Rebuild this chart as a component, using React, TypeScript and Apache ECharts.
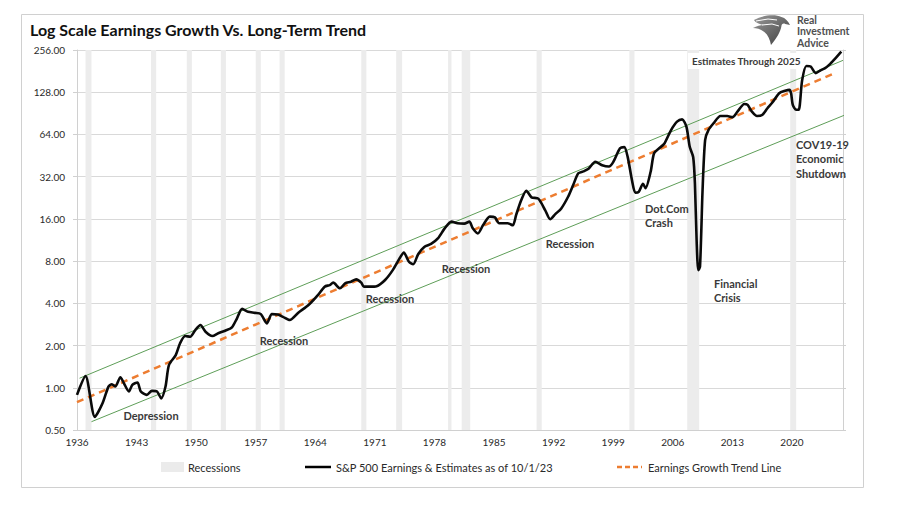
import React, { useEffect, useRef } from "react";
import * as echarts from "echarts";

// ---- Data ----
const YEARS = [
  1936.0, 1937.0, 1938.1, 1939.0, 1939.7, 1940.1, 1940.5, 1941.1, 1941.5, 1942.1,
  1942.5, 1943.1, 1943.5, 1944.2, 1944.8, 1945.4, 1945.9, 1946.4, 1946.8, 1947.6,
  1948.1, 1948.7, 1949.3, 1949.9, 1950.5, 1951.1, 1951.9, 1952.6, 1953.4, 1954.2,
  1954.8, 1955.4, 1956.1, 1956.9, 1957.6, 1958.3, 1958.9, 1959.6, 1960.2, 1961.0,
  1962.0, 1963.2, 1964.3, 1965.1, 1965.7, 1966.1, 1966.9, 1967.5, 1968.2, 1968.8,
  1969.4, 1969.7, 1970.4, 1971.2, 1972.2, 1973.1, 1973.9, 1974.4, 1975.0, 1975.5,
  1976.1, 1976.8, 1977.6, 1978.4, 1979.2, 1980.0, 1980.7, 1981.5, 1982.1, 1982.5,
  1983.1, 1983.7, 1984.5, 1985.1, 1985.6, 1986.6, 1987.2, 1987.6, 1988.2, 1988.8,
  1989.4, 1990.2, 1991.0, 1991.6, 1992.2, 1992.9, 1993.7, 1994.3, 1994.9, 1995.5,
  1996.1, 1996.9, 1997.7, 1998.5, 1999.0, 1999.8, 2000.3, 2000.7, 2001.2, 2001.6,
  2002.0, 2002.5, 2002.8, 2003.4, 2003.8, 2004.4, 2005.0, 2005.8, 2006.5, 2007.1,
  2007.6, 2008.0, 2008.4, 2008.6, 2008.8, 2009.0, 2009.2, 2009.5, 2009.8, 2010.2,
  2010.8, 2011.6, 2012.4, 2013.0, 2013.6, 2014.4, 2014.8, 2015.3, 2015.9, 2016.5,
  2017.1, 2017.7, 2018.5, 2019.2, 2019.7, 2019.9, 2020.1, 2020.5, 2020.8, 2021.2,
  2021.7, 2022.2, 2022.8, 2023.4, 2023.9, 2024.5, 2025.1, 2025.8,
];
const EARNINGS = [
  0.89, 1.21, 0.62, 0.775, 1.02, 1.06, 1.02, 1.19, 1.08, 0.94,
  1.05, 1.09, 0.94, 0.89, 0.95, 0.94, 0.84, 1.02, 1.45, 1.71,
  2.07, 2.34, 2.31, 2.58, 2.8, 2.51, 2.34, 2.45, 2.55, 2.7,
  3.13, 3.65, 3.48, 3.42, 3.35, 2.88, 3.35, 3.33, 3.2, 3.04,
  3.43, 3.89, 4.58, 5.26, 5.4, 5.62, 5.12, 5.55, 5.7, 5.93,
  5.62, 5.26, 5.26, 5.3, 5.87, 6.9, 8.37, 9.2, 7.92, 7.6,
  9.0, 10.1, 10.6, 11.6, 13.7, 15.3, 14.9, 14.8, 15.3, 13.7,
  12.6, 14.4, 16.6, 16.4, 14.9, 14.9, 14.4, 17.1, 21.8, 25.4,
  22.8, 22.3, 18.5, 15.9, 17.3, 19.0, 23.0, 27.9, 33.8, 34.9,
  36.4, 40.9, 38.6, 37.8, 40.6, 51, 52, 44.3, 30.3, 24.6,
  24.9, 28.5, 26.5, 34.7, 47, 51, 55, 68.8, 79, 82,
  72.7, 52, 44, 28.7, 11.3, 6.9, 7.3, 25.7, 58.4, 69,
  77, 86.6, 86.6, 85, 93, 105.6, 104, 93, 86.6, 88,
  98, 108, 126, 131, 133, 126, 104, 96, 96, 156,
  197, 195, 175, 184, 190, 204, 223, 249,
];

const RECESSION_START = [1937.0, 1944.7, 1948.9, 1952.9, 1957.0, 1959.8, 1969.4, 1973.5, 1979.6, 1981.2, 1990.0, 2000.9, 2007.7, 2019.8];
const RECESSION_END = [1937.7, 1945.3, 1949.5, 1953.5, 1957.6, 1960.4, 1970.0, 1974.2, 1980.0, 1982.2, 1990.6, 2001.5, 2009.1, 2020.5];

const TREND_YEARS = [1936, 2025];
const TREND_VALUES = [0.79, 175];
const UPPER_YEARS = [1936.3, 2026];
const UPPER_VALUES = [1.17, 216];
const LOWER_YEARS = [1937.7, 2026.8];
const LOWER_VALUES = [0.573, 91];

const X_MIN = 1936;
const X_MAX = 2026;
const X_STEP = 7;
const Y_MIN = 0.5;
const Y_MAX = 256;

const SERIES_NAMES = [
  "Recessions",
  "S&P 500 Earnings & Estimates as of 10/1/23",
  "Earnings Growth Trend Line",
];
const TITLE = "Log Scale Earnings Growth Vs. Long-Term Trend";
const LOGO_LINES = ["Real", "Investment", "Advice"];

const FONT = "Lato, 'Noto Sans', sans-serif";

echarts.graphic.registerShape(
  "eagleLogo",
  echarts.graphic.extendPath(
    "M2 7 C12 2 24 1 31 4 C35 5 38 8 40 12 L35 11 C33 10 31 11 31 13 C30 19 26 25 20 32 C19 27 17 22 13 19 C9 16 5 15 1 15 C5 13 9 12 12 12 C8 11 4 10 2 7 Z",
    {}
  )
);

function pairs(xs: number[], ys: number[]) {
  return xs.map((x, i) => [x, ys[i]]);
}

function ann(text: string, x: number, y: number, align = "center", size = 11) {
  return {
    type: "text",
    x,
    y,
    z: 20,
    style: {
      text,
      fill: "#3a3a3a",
      fontSize: size,
      fontWeight: "bold",
      fontFamily: FONT,
      align,
      verticalAlign: "middle",
    },
  };
}

export default function App() {
  const ref = useRef<HTMLDivElement>(null);
  useEffect(() => {
    if (!ref.current) return;
    const chart = echarts.init(ref.current, null, { renderer: "svg" });
    const option: any = {
      animation: false,
      backgroundColor: "#ffffff",
      title: {
        text: TITLE,
        left: 25,
        top: 16,
        textStyle: { fontSize: 16, fontWeight: "bold", color: "#111", fontFamily: FONT },
      },
      grid: { left: 77, top: 50, width: 766, height: 380 },
      xAxis: {
        type: "value",
        min: X_MIN,
        max: X_MAX,
        interval: X_STEP,
        axisLine: { show: true, lineStyle: { color: "#d0d0d0" } },
        axisTick: { show: false },
        splitLine: { show: false },
        axisLabel: {
          color: "#2a2a2a",
          fontSize: 10,
          fontFamily: FONT,
          margin: 7,
          showMaxLabel: false,
          formatter: (v: number) => String(Math.round(v)),
        },
      },
      yAxis: [
        {
          type: "log",
          logBase: 2,
          min: Y_MIN,
          max: Y_MAX,
          axisLine: { show: true, lineStyle: { color: "#d0d0d0" } },
          axisTick: { show: true, length: 4, lineStyle: { color: "#d0d0d0" } },
          splitLine: { show: true, lineStyle: { color: "#d9d9d9", width: 1 } },
          axisLabel: {
            color: "#2a2a2a",
            fontSize: 10,
            fontFamily: FONT,
            margin: 12,
            formatter: (v: number) => v.toFixed(2),
          },
        },
        {
          type: "log",
          logBase: 2,
          min: Y_MIN,
          max: Y_MAX,
          position: "right",
          axisLine: { show: true, lineStyle: { color: "#d0d0d0" } },
          axisTick: { show: true, length: 3, lineStyle: { color: "#d0d0d0" } },
          splitLine: { show: false },
          axisLabel: { show: false },
        },
      ],
      series: [
        {
          name: SERIES_NAMES[0],
          type: "line",
          data: [],
          z: 0,
          silent: true,
          markArea: {
            silent: true,
            itemStyle: { color: "#ececec" },
            data: RECESSION_START.map((s, i) => [{ xAxis: s }, { xAxis: RECESSION_END[i] }]),
          },
        },
        {
          name: "upper",
          type: "line",
          data: pairs(UPPER_YEARS, UPPER_VALUES),
          showSymbol: false,
          silent: true,
          z: 3,
          lineStyle: { color: "#5e9e58", width: 1 },
        },
        {
          name: "lower",
          type: "line",
          data: pairs(LOWER_YEARS, LOWER_VALUES),
          showSymbol: false,
          silent: true,
          clip: false,
          z: 3,
          lineStyle: { color: "#5e9e58", width: 1 },
        },
        {
          name: SERIES_NAMES[2],
          type: "line",
          data: pairs(TREND_YEARS, TREND_VALUES),
          showSymbol: false,
          silent: true,
          z: 4,
          lineStyle: { color: "#ED7D31", width: 2.5, type: [7, 5] },
        },
        {
          name: SERIES_NAMES[1],
          type: "line",
          data: pairs(YEARS, EARNINGS),
          showSymbol: false,
          silent: true,
          smooth: 0.25,
          z: 5,
          lineStyle: { color: "#0a0a0a", width: 2.6 },
        },
      ],
      graphic: [
        {
          type: "rect",
          shape: { x: 21.5, y: 14.5, width: 842, height: 473 },
          style: { fill: "none", stroke: "#d0d0d0", lineWidth: 1 },
          z: 0,
          silent: true,
        },
        // logo
        {
          type: "eagleLogo",
          x: 752,
          y: 13,
          scaleX: 0.95,
          scaleY: 1.0,
          style: {
            fill: new echarts.graphic.LinearGradient(0, 0, 1, 1, [
              { offset: 0, color: "#9a9a9a" },
              { offset: 1, color: "#3c3c3c" },
            ]),
          },
          z: 20,
        },
        {
          type: "polyline",
          shape: { points: [[756, 21], [768, 19], [777, 20]] },
          style: { stroke: "#ffffff", lineWidth: 1, fill: "none" },
          z: 21,
        },
        {
          type: "polyline",
          shape: { points: [[762, 25], [772, 24], [779, 26]] },
          style: { stroke: "#ffffff", lineWidth: 1, fill: "none" },
          z: 21,
        },
        ...LOGO_LINES.map((t, i) => ({
          type: "text",
          x: 797,
          y: 19.5 + i * 11.5,
          style: {
            text: t,
            fill: "#505050",
            fontSize: 10.5,
            fontWeight: "bold",
            fontFamily: FONT,
            verticalAlign: "middle",
          },
          z: 20,
        })),
        // annotations
        ann("Depression", 151, 415),
        ann("Recession", 284, 340),
        ann("Recession", 390, 298),
        ann("Recession", 466, 268),
        ann("Recession", 570, 243),
        ann("Dot.Com", 645, 208, "left"),
        ann("Crash", 645, 222, "left"),
        ann("Financial", 714, 283, "left"),
        ann("Crisis", 714, 297, "left"),
        ann("COV19-19", 796, 144, "left"),
        ann("Economic", 796, 158.5, "left"),
        ann("Shutdown", 796, 173, "left"),
        {
          type: "rect",
          shape: { x: 688, y: 53, width: 113, height: 16 },
          style: { fill: "#ffffff" },
          z: 19,
          silent: true,
        },
        ann("Estimates Through 2025", 692, 61, "left", 10),
        // legend
        {
          type: "rect",
          shape: { x: 161, y: 462, width: 23, height: 10 },
          style: { fill: "#ebebeb" },
          z: 20,
        },
        {
          type: "text",
          x: 188,
          y: 467,
          style: { text: SERIES_NAMES[0], fill: "#2a2a2a", fontSize: 11, fontFamily: FONT, verticalAlign: "middle" },
          z: 20,
        },
        {
          type: "line",
          shape: { x1: 305, y1: 467, x2: 331, y2: 467 },
          style: { stroke: "#000", lineWidth: 2.5 },
          z: 20,
        },
        {
          type: "text",
          x: 336,
          y: 467,
          style: { text: SERIES_NAMES[1], fill: "#2a2a2a", fontSize: 11, fontFamily: FONT, verticalAlign: "middle" },
          z: 20,
        },
        {
          type: "line",
          shape: { x1: 617, y1: 467, x2: 642, y2: 467 },
          style: { stroke: "#ED7D31", lineWidth: 2.5, lineDash: [5, 3] },
          z: 20,
        },
        {
          type: "text",
          x: 648,
          y: 467,
          style: { text: SERIES_NAMES[2], fill: "#2a2a2a", fontSize: 11, fontFamily: FONT, verticalAlign: "middle" },
          z: 20,
        },
      ],
    };
    chart.setOption(option);
    return () => chart.dispose();
  }, []);
  return (
    <div
      ref={ref}
      style={{ position: "absolute", left: 0, top: 0, width: 897, height: 511, background: "#fff" }}
    />
  );
}
